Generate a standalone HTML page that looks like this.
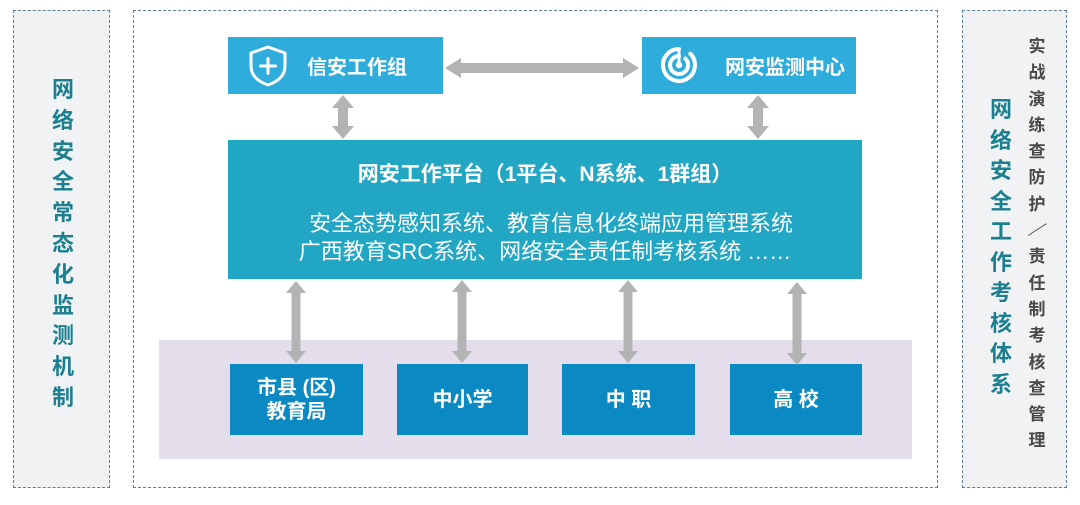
<!DOCTYPE html>
<html><head><meta charset="utf-8"><style>
*{margin:0;padding:0;box-sizing:border-box}
html,body{width:1080px;height:505px;background:#fff;overflow:hidden}
body{position:relative;font-family:"Liberation Sans","Noto Sans CJK SC",sans-serif}
.abs{position:absolute}
.panel{position:absolute;border:1.5px dashed #5b7ea6}
.side{background:#f1f2f4}
.vt{position:absolute;text-align:center;font-weight:bold}
.vt span{display:block;overflow:visible}
.rs span{height:26.3px}
.box{position:absolute;color:#fff;font-weight:bold;display:flex;align-items:center;justify-content:center;text-align:center}
.top{background:#2eacdb;font-size:20px}
.bot{background:#0b89c3;font-size:20px;line-height:24px}
</style></head><body>

<div class="panel side" style="left:13px;top:10px;width:97px;height:478px"></div>
<div class="panel" style="left:133px;top:10px;width:805px;height:478px;background:#fff"></div>
<div class="panel side" style="left:962px;top:10px;width:105px;height:478px"></div>

<div class="vt" style="left:48px;top:75px;width:30px;font-size:22px;line-height:30.8px;color:#1b7f8f">
<span style="height:30.8px">网</span><span style="height:30.8px">络</span><span style="height:30.8px">安</span><span style="height:30.8px">全</span><span style="height:30.8px">常</span><span style="height:30.8px">态</span><span style="height:30.8px">化</span><span style="height:30.8px">监</span><span style="height:30.8px">测</span><span style="height:30.8px">机</span><span style="height:30.8px">制</span></div>

<div class="vt" style="left:986px;top:95px;width:30px;font-size:22px;line-height:30.5px;color:#1b7f8f">
<span style="height:30.5px">网</span><span style="height:30.5px">络</span><span style="height:30.5px">安</span><span style="height:30.5px">全</span><span style="height:30.5px">工</span><span style="height:30.5px">作</span><span style="height:30.5px">考</span><span style="height:30.5px">核</span><span style="height:30.5px">体</span><span style="height:30.5px">系</span></div>

<div class="vt rs" style="left:1024px;top:34px;width:26px;font-size:17px;line-height:26.3px;color:#484848">
<span>实</span><span>战</span><span>演</span><span>练</span><span>查</span><span>防</span><span>护</span><span style="transform:rotate(12deg)">／</span><span>责</span><span>任</span><span>制</span><span>考</span><span>核</span><span>查</span><span>管</span><span>理</span></div>

<div class="abs" style="left:159px;top:340px;width:753px;height:119px;background:#e3ddec"></div>

<div class="box top" style="left:228px;top:37px;width:215px;height:57px;justify-content:flex-start;padding-left:79px">信安工作组</div>
<div class="box top" style="left:642px;top:37px;width:214px;height:57px;justify-content:flex-start;padding-left:83px">网安监测中心</div>

<div class="abs" style="left:228px;top:140px;width:634px;height:139px;background:#21a6c4;color:#fff;text-align:center">
  <div style="position:absolute;left:0;width:634px;top:22px;font-size:21px;font-weight:bold;line-height:26px">网安工作平台（1平台、N系统、1群组）</div>
  <div style="position:absolute;left:6px;width:634px;top:71px;font-size:22px;line-height:26px">安全态势感知系统、教育信息化终端应用管理系统</div>
  <div style="position:absolute;left:0;width:634px;top:99px;font-size:22px;line-height:26px">广西教育SRC系统、网络安全责任制考核系统 ……</div>
</div>

<div class="box bot" style="left:230px;top:364px;width:133px;height:71px">市县 (区)<br>教育局</div>
<div class="box bot" style="left:397px;top:364px;width:131px;height:71px">中小学</div>
<div class="box bot" style="left:562px;top:364px;width:133px;height:71px">中 职</div>
<div class="box bot" style="left:730px;top:364px;width:132px;height:71px">高 校</div>

<svg class="abs" style="left:0;top:0" width="1080" height="505" viewBox="0 0 1080 505">
  <g fill="#b3b3b3">
    <polygon points="445,68 461,58 461,63 623,63 623,58 639,68 623,78 623,73 461,73 461,78"/>
    <polygon points="343,95 354,108 348,108 348,126 354,126 343,139 332,126 338,126 338,108 332,108"/>
    <polygon points="758,95 769,108 763,108 763,126 769,126 758,139 747,126 753,126 753,108 747,108"/>
    <polygon points="296,281 306,293 300.5,293 300.5,351 306,351 296,363 286,351 291.5,351 291.5,293 286,293"/>
    <polygon points="462,280 472,292 466.5,292 466.5,351 472,351 462,363 452,351 457.5,351 457.5,292 452,292"/>
    <polygon points="628,280 638,292 632.5,292 632.5,351 638,351 628,363 618,351 623.5,351 623.5,292 618,292"/>
    <polygon points="797,282 807,294 801.5,294 801.5,353 807,353 797,365 787,353 792.5,353 792.5,294 787,294"/>
  </g>
  <g fill="none" stroke="#fff" stroke-width="3" stroke-linejoin="round" stroke-linecap="round">
    <path d="M268 47 L285 53 L285 66 Q285 79 268 85 Q251 79 251 66 L251 53 Z"/>
    <path d="M260.5 66 H275.5 M268 58.5 V73.5"/>
  </g>
  <g fill="none" stroke="#fff" stroke-width="4" stroke-linecap="round">
    <path d="M690.3 53.7 A16 16 0 1 1 679 49"/>
    <path d="M685.4 58.6 A9 9 0 1 1 679 56"/>
    <path d="M679 50 V64" stroke-width="3"/>
  </g>
  <circle cx="679" cy="65" r="3.2" fill="#fff"/>
</svg>
</body></html>
